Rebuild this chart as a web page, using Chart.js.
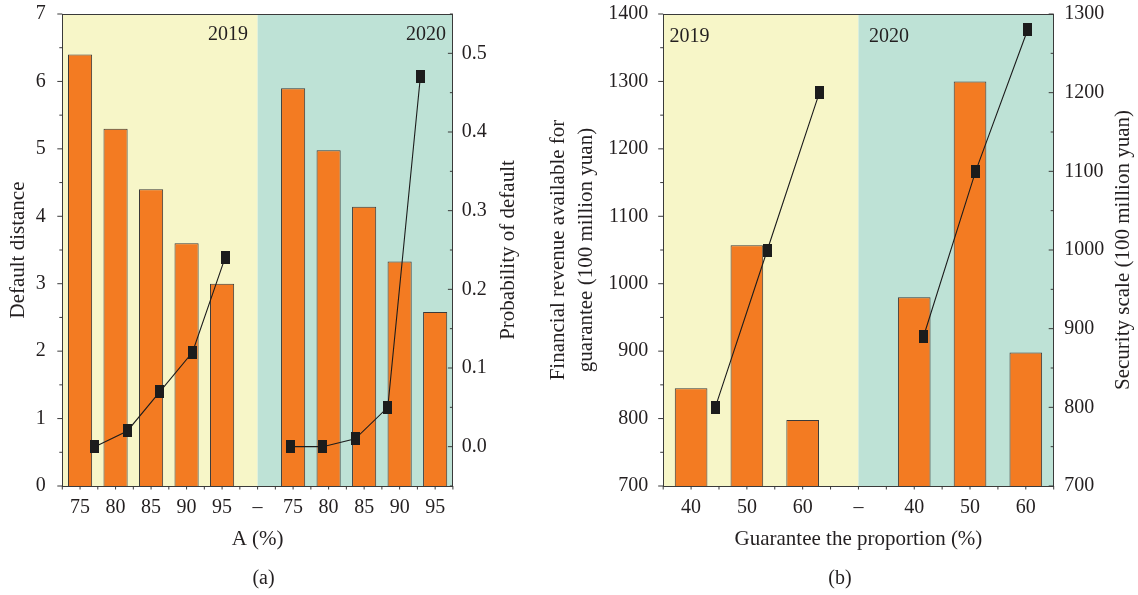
<!DOCTYPE html>
<html>
<head>
<meta charset="utf-8">
<script src="https://cdn.jsdelivr.net/npm/chart.js@4.4.0/dist/chart.umd.min.js"></script>
<style>
  html, body { margin: 0; padding: 0; background: #fff; }
  body { width: 1138px; height: 595px; position: relative; overflow: hidden; }
  canvas { position: absolute; top: 0; }
  #chartA { left: 0; }
  #chartB { left: 542px; }
</style>
</head>
<body>
<canvas id="chartA" width="527" height="595"></canvas>
<canvas id="chartB" width="596" height="595"></canvas>
<script>
// (a) default distance / probability of default
const aLabels = ['75', '80', '85', '90', '95', '–', '75', '80', '85', '90', '95'];
const aDistance2019 = [6.4, 5.3, 4.4, 3.6, 3.0];
const aDistance2020 = [5.9, 4.98, 4.14, 3.33, 2.58];
const aProb2019 = [0.0, 0.02, 0.07, 0.12, 0.24];
const aProb2020 = [0.0, 0.0, 0.01, 0.05, 0.47];
const aLeftTicks = [0, 1, 2, 3, 4, 5, 6, 7];
const aRightTicks = [0.0, 0.1, 0.2, 0.3, 0.4, 0.5];

// (b) financial revenue / security scale
const bLabels = ['40', '50', '60', '–', '40', '50', '60'];
const bRevenue2019 = [845, 1057, 798];
const bRevenue2020 = [980, 1300, 898];
const bScale2019 = [800, 1000, 1200];
const bScale2020 = [890, 1100, 1280];
const bLeftTicks = [700, 800, 900, 1000, 1100, 1200, 1300, 1400];
const bRightTicks = [700, 800, 900, 1000, 1100, 1200, 1300];

const years = ['2019', '2020'];

const TEXT = '#231f20';
const AXIS = '#3a3a3a';
const ORANGE = '#f37b22';
const FAMILY = "'Liberation Serif', 'DejaVu Serif', serif";

Chart.defaults.font.family = FAMILY;
Chart.defaults.font.size = 20;
Chart.defaults.color = TEXT;

// black rectangular marker
const marker = document.createElement('canvas');
marker.width = 9;
marker.height = 13;
const mctx = marker.getContext('2d');
mctx.fillStyle = '#1c1c1c';
mctx.fillRect(0, 0, 9, 13);

function minorValues(majors, min, max) {
    const step = majors[1] - majors[0];
    const out = [];
    for (let v = majors[0] - step / 2; v <= max + 1e-9; v += step) {
        if (v >= min - 1e-9) out.push(v);
    }
    return out;
}

function tickLine(ctx, x1, y1, x2, y2) {
    ctx.beginPath();
    ctx.moveTo(x1, y1);
    ctx.lineTo(x2, y2);
    ctx.stroke();
}

function noPad(s) {
    s.paddingTop = 0;
    s.paddingBottom = 0;
    s.paddingLeft = 0;
    s.paddingRight = 0;
}

const panelPlugin = {
    id: 'panel',
    beforeDraw(chart, args, o) {
        const { ctx, chartArea: a } = chart;
        const split = chart.scales.x.getPixelForValue(o.split);
        ctx.save();
        ctx.fillStyle = '#f7f6c8';
        ctx.fillRect(a.left, a.top, split - a.left, a.bottom - a.top);
        ctx.fillStyle = '#bee2d6';
        ctx.fillRect(split, a.top, a.right - split, a.bottom - a.top);
        ctx.restore();
    },
    beforeDatasetsDraw(chart, args, o) {
        const { ctx, chartArea: a } = chart;
        const split = chart.scales.x.getPixelForValue(o.split);
        ctx.save();
        ctx.font = '20px ' + FAMILY;
        ctx.fillStyle = TEXT;
        ctx.textBaseline = 'middle';
        o.yearPos.forEach((p, i) => {
            const base = p.from === 'left' ? a.left : p.from === 'right' ? a.right : split;
            ctx.textAlign = p.align;
            ctx.fillText(years[i], base + p.dx, a.top + o.yearDy);
        });
        ctx.restore();
    },
    afterDraw(chart, args, o) {
        const { ctx, chartArea: a, scales } = chart;
        ctx.save();
        ctx.strokeStyle = AXIS;
        ctx.lineWidth = 1;
        // top frame
        tickLine(ctx, a.left, Math.round(a.top) + 0.5, a.right, Math.round(a.top) + 0.5);
        // left axis ticks (outward)
        o.leftTicks.forEach(v => {
            const y = scales.y.getPixelForValue(v);
            tickLine(ctx, a.left, y, a.left - 5, y);
        });
        minorValues(o.leftTicks, scales.y.min, scales.y.max).forEach(v => {
            const y = scales.y.getPixelForValue(v);
            tickLine(ctx, a.left, y, a.left - 3, y);
        });
        // right axis ticks (inward)
        o.rightTicks.forEach(v => {
            const y = scales.y1.getPixelForValue(v);
            tickLine(ctx, a.right, y, a.right - 5, y);
        });
        minorValues(o.rightTicks, scales.y1.min, scales.y1.max).forEach(v => {
            const y = scales.y1.getPixelForValue(v);
            tickLine(ctx, a.right, y, a.right - 3, y);
        });
        // bottom ticks at category centres and boundaries
        const n = chart.data.labels.length;
        const half = (scales.x.getPixelForValue(1) - scales.x.getPixelForValue(0)) / 2;
        for (let i = 0; i < n; i++) {
            const c = scales.x.getPixelForValue(i);
            tickLine(ctx, c - half, a.bottom, c - half, a.bottom + 3.5);
            tickLine(ctx, c, a.bottom, c, a.bottom + 3.5);
        }
        const last = scales.x.getPixelForValue(n - 1) + half;
        tickLine(ctx, last, a.bottom, last, a.bottom + 3.5);
        // right axis title, reading bottom to top
        ctx.translate(o.rightTitleX, (a.top + a.bottom) / 2);
        ctx.rotate(-Math.PI / 2);
        ctx.font = '21px ' + FAMILY;
        ctx.fillStyle = TEXT;
        ctx.textAlign = 'center';
        ctx.textBaseline = 'middle';
        ctx.fillText(o.rightTitle, 0, 0);
        ctx.restore();
    }
};

function lineSet(values, start) {
    return {
        type: 'line',
        data: values.map((v, i) => ({ x: start + i, y: v })),
        xAxisID: 'xl',
        yAxisID: 'y1',
        borderColor: '#1c1c1c',
        borderWidth: 1.1,
        pointStyle: marker,
        pointRadius: 5,
        tension: 0,
        order: 1
    };
}

function panelChart(id, c) {
    return new Chart(document.getElementById(id), {
        type: 'bar',
        data: {
            labels: c.labels,
            datasets: [
                lineSet(c.line2019, 0),
                lineSet(c.line2020, c.split + 1),
                {
                    type: 'bar',
                    data: [...c.bar2019, null, ...c.bar2020],
                    xAxisID: 'x',
                    yAxisID: 'y',
                    grouped: false,
                    backgroundColor: ORANGE,
                    borderColor: AXIS,
                    borderWidth: 1,
                    categoryPercentage: 1,
                    barPercentage: c.barPct,
                    order: 2
                }
            ]
        },
        options: {
            responsive: false,
            animation: false,
            events: [],
            layout: { padding: { top: 14, left: 0, right: 0, bottom: 0 } },
            plugins: {
                legend: { display: false },
                tooltip: { enabled: false },
                title: {
                    display: true,
                    position: 'bottom',
                    text: c.panel,
                    color: TEXT,
                    font: { size: 20, weight: 'normal' },
                    padding: { top: 0, bottom: 4.3 }
                },
                panel: {
                    split: c.split,
                    yearPos: c.yearPos,
                    yearDy: c.yearDy,
                    leftTicks: c.leftTicks,
                    rightTicks: c.rightTicks,
                    rightTitle: c.rightTitle,
                    rightTitleX: c.rightTitleX
                }
            },
            scales: {
                x: {
                    type: 'category',
                    offset: true,
                    grid: { display: false, drawTicks: false },
                    border: { color: AXIS, width: 1 },
                    ticks: { autoSkip: false, maxRotation: 0, padding: 9.3 },
                    title: {
                        display: true,
                        text: c.xTitle,
                        font: { size: 21 },
                        padding: { top: 0, bottom: 15.1 }
                    },
                    afterFit: s => { s.height = 80.7; noPad(s); }
                },
                xl: {
                    type: 'linear',
                    display: false,
                    offset: false,
                    min: -1,
                    max: c.xlMax,
                    afterFit: s => { noPad(s); }
                },
                y: {
                    position: 'left',
                    min: c.leftTicks[0],
                    max: c.leftTicks[c.leftTicks.length - 1],
                    afterBuildTicks: s => { s.ticks = c.leftTicks.map(v => ({ value: v })); },
                    grid: { display: false, drawTicks: false },
                    border: { color: AXIS, width: 1 },
                    ticks: { padding: c.leftPad, callback: v => String(v) },
                    title: {
                        display: true,
                        text: c.leftTitle,
                        font: { size: 21, lineHeight: c.leftLineHeight },
                        padding: { top: c.leftTitlePad, bottom: 0 }
                    },
                    afterFit: s => { s.width = c.leftWidth; noPad(s); }
                },
                y1: {
                    position: 'right',
                    min: c.rightMin,
                    max: c.rightMax,
                    afterBuildTicks: s => { s.ticks = c.rightTicks.map(v => ({ value: v })); },
                    grid: { display: false, drawTicks: false },
                    border: { color: AXIS, width: 1 },
                    ticks: { padding: c.rightPad, callback: c.rightFormat },
                    afterFit: s => { s.width = c.rightWidth; noPad(s); }
                }
            }
        },
        plugins: [panelPlugin]
    });
}

panelChart('chartA', {
    labels: aLabels,
    bar2019: aDistance2019,
    bar2020: aDistance2020,
    line2019: aProb2019,
    line2020: aProb2020,
    split: 5,
    barPct: 0.68,
    xlMax: 11,
    panel: '(a)',
    xTitle: 'A (%)',
    leftTitle: 'Default distance',
    leftLineHeight: 1.2,
    leftTitlePad: 5.9,
    leftTicks: aLeftTicks,
    leftPad: 16.6,
    leftWidth: 62.3,
    rightTicks: aRightTicks,
    rightMin: -0.05,
    rightMax: 0.55,
    rightPad: 8.8,
    rightWidth: 74.1,
    rightFormat: v => v.toFixed(1),
    rightTitle: 'Probability of default',
    rightTitleX: 508,
    yearPos: [
        { from: 'split', dx: -9.6, align: 'right' },
        { from: 'right', dx: -7, align: 'right' }
    ],
    yearDy: 21
});

panelChart('chartB', {
    labels: bLabels,
    bar2019: bRevenue2019,
    bar2020: bRevenue2020,
    line2019: bScale2019,
    line2020: bScale2020,
    split: 3,
    barPct: 0.585,
    xlMax: 6.5,
    panel: '(b)',
    xTitle: 'Guarantee the proportion (%)',
    leftTitle: ['Financial revenue available for', 'guarantee (100 million yuan)'],
    leftLineHeight: 1.319,
    leftTitlePad: 2.65,
    leftTicks: bLeftTicks,
    leftPad: 14.9,
    leftWidth: 121.2,
    rightTicks: bRightTicks,
    rightMin: 700,
    rightMax: 1300,
    rightPad: 10.6,
    rightWidth: 84.3,
    rightFormat: v => String(v),
    rightTitle: 'Security scale (100 million yuan)',
    rightTitleX: 581.3,
    yearPos: [
        { from: 'left', dx: 6.3, align: 'left' },
        { from: 'split', dx: 10.6, align: 'left' }
    ],
    yearDy: 23
});
</script>
</body>
</html>
